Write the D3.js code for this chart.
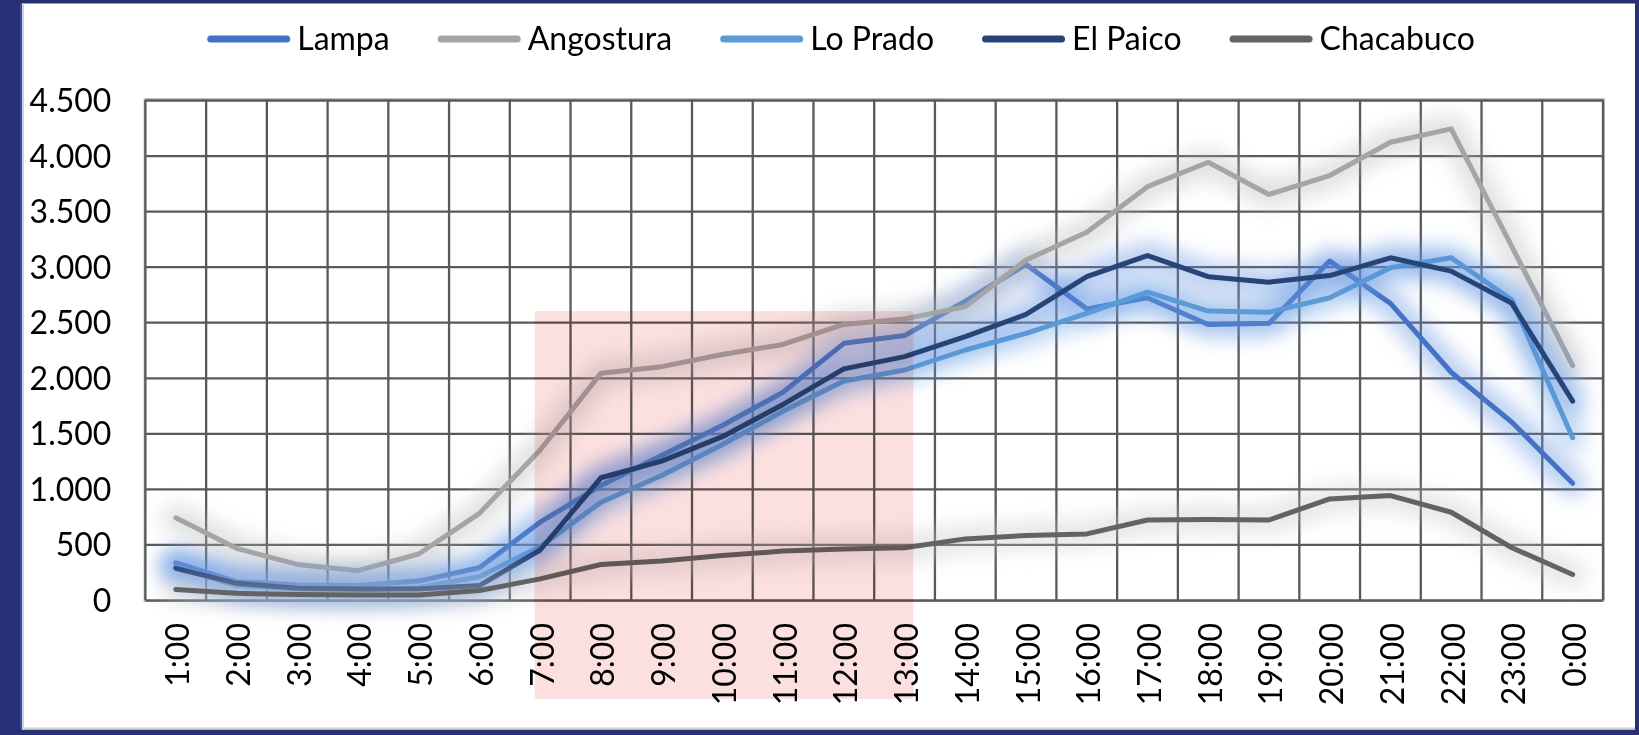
<!DOCTYPE html>
<html>
<head>
<meta charset="utf-8">
<script src="https://cdn.jsdelivr.net/npm/d3@7"></script>
<style>
    body { margin: 0; background: #ffffff; }
    svg { display: block; }
    text { font-family: Lato, "Open Sans", sans-serif; fill: #000; }
</style>
</head>
<body>
<div id="chart"></div>
<script>
const hours = ['1:00', '2:00', '3:00', '4:00', '5:00', '6:00', '7:00', '8:00', '9:00', '10:00', '11:00', '12:00',
    '13:00', '14:00', '15:00', '16:00', '17:00', '18:00', '19:00', '20:00', '21:00', '22:00', '23:00', '0:00'];

const lampa = [335, 165, 135, 130, 170, 290, 700, 1030, 1300, 1570, 1870, 2310, 2380, 2690, 3020, 2620, 2720, 2480, 2490, 3050, 2670, 2050, 1600, 1050];
const angostura = [740, 465, 320, 264, 414, 780, 1350, 2040, 2100, 2210, 2300, 2480, 2530, 2640, 3060, 3310, 3720, 3940, 3650, 3820, 4120, 4240, 3180, 2110];
const loPrado = [300, 130, 100, 90, 110, 210, 480, 880, 1120, 1400, 1700, 1970, 2070, 2250, 2400, 2580, 2770, 2600, 2590, 2720, 2990, 3080, 2700, 1460];
const elPaico = [285, 150, 105, 100, 100, 130, 450, 1100, 1250, 1470, 1760, 2080, 2190, 2370, 2570, 2910, 3100, 2910, 2860, 2920, 3080, 2960, 2670, 1790];
const chacabuco = [95, 60, 50, 45, 45, 85, 190, 320, 350, 400, 440, 460, 470, 550, 580, 595, 720, 725, 720, 910, 940, 790, 470, 230];

const seriesNames = ['Lampa', 'Angostura', 'Lo Prado', 'El Paico', 'Chacabuco'];
const seriesColors = ['#4472C4', '#A5A5A5', '#5B9BD5', '#264478', '#636363'];
const glowColors = ['#5B8BE0', '#B8B8B8', '#6FA9E6', '#5B8BE0', '#C4C4C4'];
const yTicks = [0, 500, 1000, 1500, 2000, 2500, 3000, 3500, 4000, 4500];

// shaded morning block
const highlightFrom = '7:00';
const highlightTo = '13:00';
const highlightTop = 2600;

const width = 1639;
const height = 735;
const plot = { left: 145.4, right: 1603, top: 100, bottom: 600 };

const series = seriesNames.map((name, i) => ({
    name: name,
    color: seriesColors[i],
    glow: glowColors[i],
    values: [lampa, angostura, loPrado, elPaico, chacabuco][i]
}));

const svg = d3.select('#chart')
    .append('svg')
    .attr('width', width)
    .attr('height', height);

svg.append('rect')
    .attr('width', width)
    .attr('height', height)
    .attr('fill', '#ffffff');

const defs = svg.append('defs');
defs.append('filter')
    .attr('id', 'glow')
    .attr('filterUnits', 'userSpaceOnUse')
    .attr('x', 0).attr('y', 0)
    .attr('width', width).attr('height', height)
    .append('feGaussianBlur')
    .attr('stdDeviation', 10);

const x = d3.scaleBand()
    .domain(hours)
    .range([plot.left, plot.right]);

const cx = h => x(h) + x.bandwidth() / 2;

const y = d3.scaleLinear()
    .domain([0, 4500])
    .range([plot.bottom, plot.top]);

const locale = d3.formatLocale({ decimal: ',', thousands: '.', grouping: [3], currency: ['', ''] });
const fmt = locale.format(',');

// plot border
svg.append('rect')
    .attr('x', plot.left - 1)
    .attr('y', plot.top - 1)
    .attr('width', plot.right - plot.left + 2)
    .attr('height', plot.bottom - plot.top + 2)
    .attr('fill', 'none')
    .attr('stroke', '#B0B0B0')
    .attr('stroke-width', 1.5);

// vertical gridlines on band edges
const edges = hours.map(h => x(h)).concat([x.range()[1]]);
svg.append('g')
    .selectAll('line')
    .data(edges)
    .join('line')
    .attr('x1', d => d)
    .attr('x2', d => d)
    .attr('y1', plot.top)
    .attr('y2', plot.bottom)
    .attr('stroke', '#595959')
    .attr('stroke-width', 2.3);

// y axis with horizontal gridlines
const yAxis = svg.append('g')
    .attr('transform', `translate(${plot.left},0)`)
    .call(d3.axisLeft(y)
        .tickValues(yTicks)
        .tickSize(-(plot.right - plot.left))
        .tickPadding(34)
        .tickFormat(fmt));

yAxis.select('.domain').remove();
yAxis.selectAll('.tick line')
    .attr('stroke', '#595959')
    .attr('stroke-width', 2.3);
yAxis.selectAll('.tick text')
    .attr('font-size', 32)
    .attr('dy', '0.36em')
    .style('font-family', 'Lato, "Open Sans", sans-serif');

// x axis labels rotated
const xAxis = svg.append('g')
    .attr('transform', `translate(0,${plot.bottom})`)
    .call(d3.axisBottom(x).tickSize(0));

xAxis.select('.domain').remove();
xAxis.selectAll('.tick text')
    .attr('font-size', 32)
    .attr('transform', 'rotate(-90)')
    .attr('text-anchor', 'end')
    .attr('x', -23)
    .attr('y', 0)
    .attr('dy', 13.5)
    .style('font-family', 'Lato, "Open Sans", sans-serif');

const line = d3.line()
    .x((d, i) => cx(hours[i]))
    .y(d => y(d));

series.forEach(s => {
    svg.append('path')
        .datum(s.values)
        .attr('d', line)
        .attr('fill', 'none')
        .attr('stroke', s.glow)
        .attr('stroke-width', 28)
        .attr('stroke-linejoin', 'round')
        .attr('stroke-linecap', 'round')
        .attr('opacity', 0.42)
        .attr('filter', 'url(#glow)');

    svg.append('path')
        .datum(s.values)
        .attr('d', line)
        .attr('fill', 'none')
        .attr('stroke', s.color)
        .attr('stroke-width', 5)
        .attr('stroke-linejoin', 'round')
        .attr('stroke-linecap', 'round');
});

// pink highlight box, multiplied over the lines
svg.append('rect')
    .attr('x', cx(highlightFrom) - 5.5)
    .attr('y', y(highlightTop))
    .attr('width', cx(highlightTo) + 8.7 - (cx(highlightFrom) - 5.5))
    .attr('height', 699 - y(highlightTop))
    .attr('fill', '#FCE0E0')
    .style('mix-blend-mode', 'multiply');

// legend
const legend = svg.append('g');
let lx = 0;
series.forEach(s => {
    const item = legend.append('g').attr('transform', `translate(${lx},0)`);
    item.append('line')
        .attr('x1', 3.5).attr('x2', 79.5)
        .attr('y1', 39).attr('y2', 39)
        .attr('stroke', s.color)
        .attr('stroke-width', 7)
        .attr('stroke-linecap', 'round');
    const t = item.append('text')
        .attr('x', 90)
        .attr('y', 49.5)
        .attr('font-size', 32)
        .text(s.name);
    lx += 90 + t.node().getComputedTextLength() + 48;
});
const legendWidth = lx - 48;
legend.attr('transform', `translate(${841 - legendWidth / 2},0)`);

// dark frame
const frame = svg.append('g');
frame.append('rect').attr('x', 0).attr('y', 0).attr('width', 22).attr('height', height).attr('fill', '#283175');
frame.append('rect').attr('x', 0).attr('y', 0).attr('width', width).attr('height', 3.5).attr('fill', '#283175');
frame.append('rect').attr('x', 0).attr('y', 729.5).attr('width', width).attr('height', 5.5).attr('fill', '#283175');
frame.append('rect').attr('x', 1635).attr('y', 0).attr('width', 4).attr('height', height).attr('fill', '#283175');
frame.append('rect').attr('x', 20).attr('y', 3.5).attr('width', 2).attr('height', 726).attr('fill', '#3A4DA8');
frame.append('rect').attr('x', 22).attr('y', 3.5).attr('width', 2).attr('height', 726).attr('fill', '#D4D4D8');
frame.append('rect').attr('x', 22).attr('y', 727.5).attr('width', 1613).attr('height', 2).attr('fill', '#D4D4D8');

console.log('chart drawn');
</script>
</body>
</html>
